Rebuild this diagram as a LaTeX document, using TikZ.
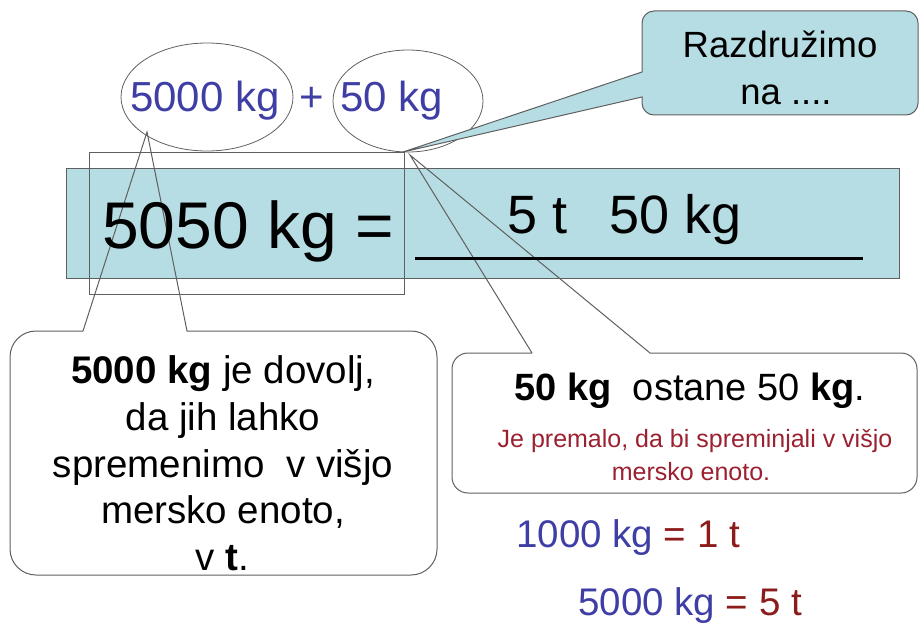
\documentclass[tikz,border=0pt]{standalone}
\usepackage{fontspec}
\setmainfont{Liberation Sans}
\definecolor{tealfill}{RGB}{182,221,227}
\definecolor{linegray}{RGB}{95,95,95}
\definecolor{kgblue}{RGB}{62,62,165}
\definecolor{tred}{RGB}{140,28,28}
\definecolor{smallred}{RGB}{155,32,48}
\newcommand\setfs[1]{\fontsize{#1}{#1}\selectfont}
\begin{document}
\begin{tikzpicture}[x=1pt,y=-1pt,
  txt/.style={inner sep=0pt, anchor=base},
  txtw/.style={inner sep=0pt, anchor=base west},
  frame/.style={draw=linegray, line width=1pt},
  ptr/.style={draw=linegray, line width=0.9pt}]
\useasboundingbox (0,0) rectangle (920,623);
% main teal strip
\draw[frame, fill=tealfill] (66,168) rectangle (899,278);
% thin frame
\draw[frame, line width=0.8pt] (89,152) rectangle (404,294);
% ellipses
\draw[frame, line width=0.8pt] (207,97) ellipse [x radius=86pt, y radius=54pt];
\draw[frame, line width=0.8pt] (408,101) ellipse [x radius=75pt, y radius=51pt];
% top right callout
\draw[frame, fill=tealfill] (403,152) -- (642,72) [rounded corners=12pt] -- (642,11) -- (918,11) -- (918,115) -- (642,115) [sharp corners] -- (642,97) -- cycle;
% left callout
\draw[frame] (83,331) -- (147,132) -- (187,331) [rounded corners=26pt] -- (437,331) -- (437,575) -- (10,575) -- (10,331) [sharp corners] -- (83,331);
% right callout
\draw[frame] (532,353) -- (410,155) -- (650,353) [rounded corners=16pt] -- (917,353) -- (917,493) -- (452,493) -- (452,353) [sharp corners] -- (532,353);

% texts top
\node[txtw, text=kgblue] (t5000) at (130,112) {\setfs{42}5000 kg};
\node[txt, text=kgblue] (plus) at (312,112) {\setfs{42}+};
\node[txtw, text=kgblue] (t50) at (340,112) {\setfs{42}50 kg};
% equation
\node[txtw] (eq) at (102,248) {\setfs{66}5050 kg =};
\node[txtw] (five) at (507,233) {\setfs{54}5 t};
\node[txtw] (fifty) at (609,233) {\setfs{54}50 kg};
\coordinate (ulA) at (415,258);
\coordinate (ulB) at (863,258);
\draw[line width=3pt] (ulA) -- (ulB);
% top right callout text
\node[txt] (raz1) at (780,58) {\setfs{36.5}Razdružimo};
\node[txt] (raz2) at (786,105) {\setfs{36.5}na ....};
% left callout text
\node[txt] (l1) at (223,383) {\setfs{38.5}\textbf{5000 kg} je dovolj,};
\node[txt] (l2) at (223,430) {\setfs{38.5}da jih lahko};
\node[txt] (l3) at (223,477) {\setfs{38.5}spremenimo\ \ v višjo};
\node[txt] (l4) at (223,523) {\setfs{38.5}mersko enoto,};
\node[txt] (l5) at (222,570) {\setfs{38.5}v \textbf{t}.};
% right callout text
\node[txt] (r1) at (690,400) {\setfs{38}\textbf{50 kg}\ \ ostane 50 \textbf{kg}.};
\node[txt, text=smallred] (r2) at (695,447) {\setfs{25}Je premalo, da bi spreminjali v višjo};
\node[txt, text=smallred] (r3) at (691,480) {\setfs{25}mersko enoto.};
% bottom equalities
\node[txtw] (e1) at (516,547) {\setfs{38.5}\textcolor{kgblue}{1000 kg} \textcolor{tred}{= 1 t}};
\node[txtw] (e2) at (578,615) {\setfs{38.5}\textcolor{kgblue}{5000 kg} \textcolor{tred}{= 5 t}};
\end{tikzpicture}
\end{document}
